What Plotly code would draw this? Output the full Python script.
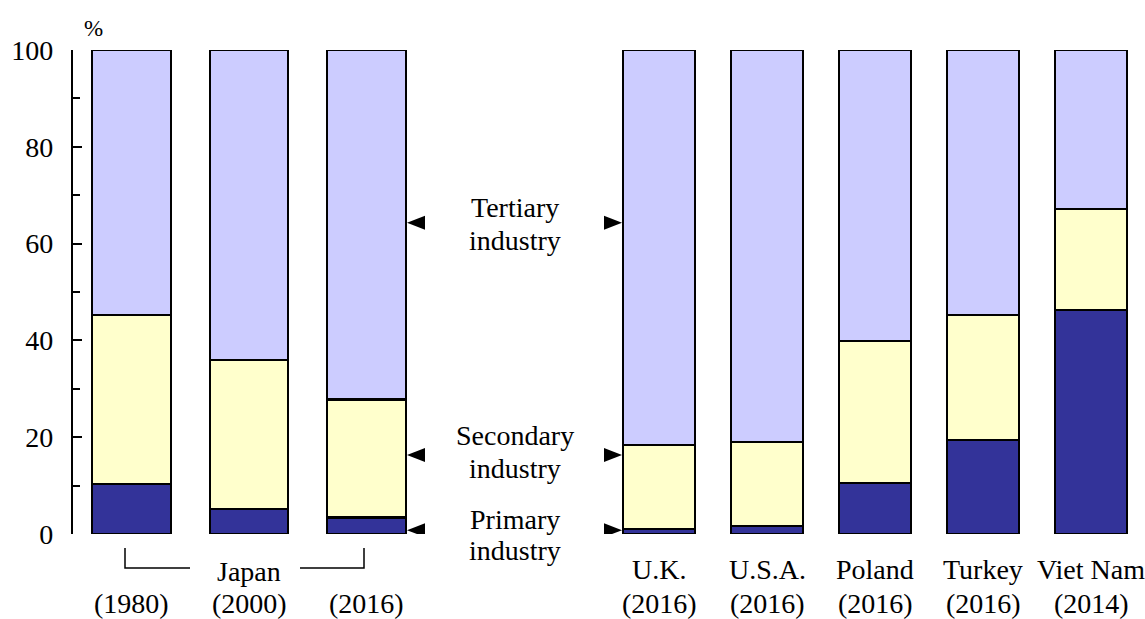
import plotly.graph_objects as go

# Employment share by industry (%)
japan_years = ["(1980)", "(2000)", "(2016)"]
japan_primary = [10.4, 5.1, 3.4]
japan_secondary = [34.8, 30.9, 24.4]
japan_tertiary = [54.8, 64.0, 72.2]

countries = ["U.K.", "U.S.A.", "Poland", "Turkey", "Viet Nam"]
country_years = ["(2016)", "(2016)", "(2016)", "(2016)", "(2014)"]
country_primary = [1.1, 1.6, 10.6, 19.5, 46.3]
country_secondary = [17.3, 17.4, 29.3, 25.8, 20.9]
country_tertiary = [81.6, 81.0, 60.1, 54.7, 32.8]

industries = ["Primary industry", "Secondary industry", "Tertiary industry"]
colors = ["#333399", "#FFFFCC", "#CCCCFF"]
pointer_levels = [0.8, 16.3, 64.3]  # where the side pointers sit on the % scale

W, H = 1145, 619
FONT = "Liberation Serif, Times New Roman, serif"
FS = 28
T, B = 50, 85
plot_h = H - T - B


def px_x(p):
    return p / W


def px_y(p):
    return (H - B - p) / plot_h


fig = go.Figure()

right_keys = [f"{c}|{y}" for c, y in zip(countries, country_years)]
for name, col, lv, rv in zip(
    industries, colors,
    [japan_primary, japan_secondary, japan_tertiary],
    [country_primary, country_secondary, country_tertiary],
):
    fig.add_trace(go.Bar(
        x=japan_years, y=lv, name=name, xaxis="x", yaxis="y",
        marker=dict(color=col, line=dict(color="black", width=2.2)),
        showlegend=False, hoverinfo="name+y",
    ))
    fig.add_trace(go.Bar(
        x=right_keys, y=rv, name=name, xaxis="x2", yaxis="y2",
        marker=dict(color=col, line=dict(color="black", width=2.2)),
        showlegend=False, hoverinfo="name+y",
    ))


def label(text, x, y, xref="paper", size=FS):
    return dict(text=text, x=x, y=px_y(y), xref=xref, yref="paper",
                xanchor="center", yanchor="middle", showarrow=False,
                font=dict(size=size))


ann = []
# unit label
ann.append(label("%", px_x(93), 28, size=23))

# Japan group labels
for yr in japan_years:
    ann.append(label(yr, yr, 603, xref="x"))
ann.append(label("Japan", japan_years[1], 571, xref="x"))

# Country labels
for key, c, yr in zip(right_keys, countries, country_years):
    ann.append(label(c, key, 569, xref="x2"))
    ann.append(label(yr, key, 603, xref="x2"))

# Middle industry captions
caption_rows = [("Tertiary", 207), ("industry", 240),
                ("Secondary", 435), ("industry", 468),
                ("Primary", 519), ("industry", 550)]
for txt, yp in caption_rows:
    ann.append(label(txt, px_x(515), yp))

shapes = []
# Japan bracket
line = dict(color="black", width=1.5)
shapes.append(dict(type="path", xref="paper", yref="paper", line=line,
                   path=f"M {px_x(125)},{px_y(548)} L {px_x(125)},{px_y(568)} L {px_x(190)},{px_y(568)}"))
shapes.append(dict(type="path", xref="paper", yref="paper", line=line,
                   path=f"M {px_x(300)},{px_y(568)} L {px_x(364)},{px_y(568)} L {px_x(364)},{px_y(548)}"))

# Pointer triangles on both sides of the captions
half = 7 / plot_h * 100
for lvl in pointer_levels:
    shapes.append(dict(type="path", xref="paper", yref="y", fillcolor="black",
                       line=dict(width=0),
                       path=f"M {px_x(407)},{lvl} L {px_x(425)},{lvl + half} L {px_x(425)},{lvl - half} Z"))
    shapes.append(dict(type="path", xref="paper", yref="y", fillcolor="black",
                       line=dict(width=0),
                       path=f"M {px_x(622)},{lvl} L {px_x(604)},{lvl + half} L {px_x(604)},{lvl - half} Z"))

fig.update_layout(
    width=W, height=H,
    margin=dict(l=0, r=0, t=T, b=B),
    paper_bgcolor="white", plot_bgcolor="white",
    barmode="stack", bargap=0.332,
    font=dict(family=FONT, size=FS, color="black"),
    annotations=ann, shapes=shapes,
    xaxis=dict(domain=[px_x(72.75), px_x(425.25)], range=[-0.5, 2.5],
               showticklabels=False, ticks="", showline=False, showgrid=False,
               zeroline=False),
    xaxis2=dict(domain=[px_x(605), px_x(1145)], range=[-0.5, 4.5], anchor="y2",
                showticklabels=False, ticks="", showline=False, showgrid=False,
                zeroline=False),
    yaxis=dict(range=[0, 100], dtick=20, showline=True, linecolor="black",
               linewidth=2, ticks="inside", ticklen=9, tickwidth=2,
               tickcolor="black", showgrid=False, zeroline=False,
               ticklabelstandoff=12, tickfont=dict(size=FS),
               minor=dict(dtick=10, ticks="inside", ticklen=7, tickwidth=2,
                          tickcolor="black")),
    yaxis2=dict(range=[0, 100], anchor="x2", matches="y", visible=False),
)

fig.write_html("out.html")
